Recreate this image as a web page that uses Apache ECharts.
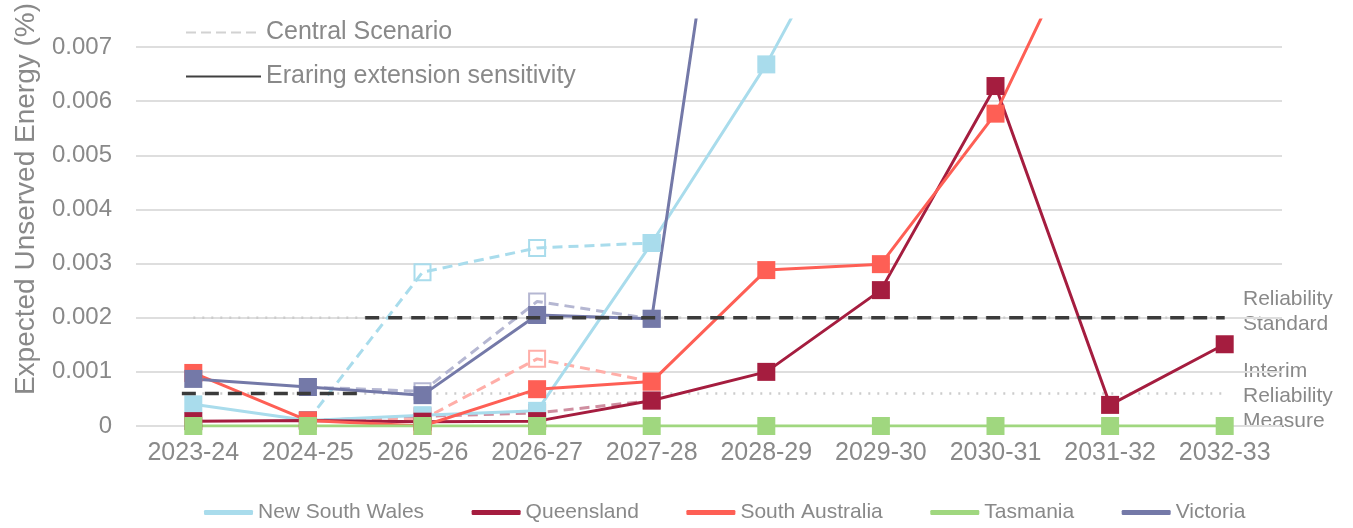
<!DOCTYPE html>
<html><head><meta charset="utf-8">
<script src="https://cdn.jsdelivr.net/npm/echarts@6/dist/echarts.min.js"></script>
<style>html,body{margin:0;padding:0;background:#fff}#c{width:1353px;height:528px}</style>
</head><body><div id="c"></div>
<script>
// ---- data ----
const categories = ['2023-24','2024-25','2025-26','2026-27','2027-28','2028-29','2029-30','2030-31','2031-32','2032-33'];
const regions = ['New South Wales','Queensland','South Australia','Tasmania','Victoria'];

// Eraring extension sensitivity (solid)
const nswEraring = [0.00040, 0.00010, 0.00020, 0.00028, 0.00338, 0.00668, 0.0106, null, null, null];
const qldEraring = [0.00009, 0.00010, 0.00008, 0.00009, 0.00047, 0.00100, 0.00251, 0.00628, 0.00039, 0.00151];
const saEraring  = [0.00098, 0.00010, 0.00000, 0.00068, 0.00082, 0.00288, 0.00299, 0.00577, 0.0102, null];
const tasEraring = [0, 0, 0, 0, 0, 0, 0, 0, 0, 0];
const vicEraring = [0.00087, 0.00072, 0.00057, 0.00205, 0.00198, 0.0163, null, null, null, null];

// Central Scenario (dashed, only where it differs)
const nswCentral = [null, 0.00010, 0.00284, 0.00329, 0.00338, null, null, null, null, null];
const qldCentral = [null, 0.00010, 0.00018, 0.00024, 0.00047, null, null, null, null, null];
const saCentral  = [null, 0.00010, 0.00012, 0.00124, 0.00082, null, null, null, null, null];
const vicCentral = [null, 0.00072, 0.00064, 0.00230, 0.00198, null, null, null, null, null];

// Reliability reference levels and their spans (category index units)
const reliabilityStandard = 0.002;
const interimMeasure = 0.0006;
const standardSpan = [1.5, 9];
const interimSpan = [-0.1, 1.5];
const guideSpan = [0, 9];

// ---- style ----
const FONT = '"Liberation Sans", Arial, sans-serif';
const TXT = '#898989';
const colors = ['#a9dcec', '#a51d3f', '#fe5f55', '#a0d77f', '#7479a8'];
const centralColors = ['#a9dcec', '#cf8ea0', '#ffaea8', '#c8e7b4', '#b5b7d2'];

const eraring = [nswEraring, qldEraring, saEraring, tasEraring, vicEraring];
const central = [nswCentral, qldCentral, saCentral, null, vicCentral];

const series = [];
// guide dotted lines
[reliabilityStandard, interimMeasure].forEach((lv, k) => {
  series.push({
    type: 'line', name: 'guide' + k, xAxisIndex: 1, yAxisIndex: 0, silent: true, z: 1,
    symbol: 'none', animation: false,
    lineStyle: { color: '#cccccc', width: 2.5, type: [2, 7] },
    data: [[guideSpan[0], lv], [guideSpan[1], lv]]
  });
});
// central scenario
central.forEach((d, i) => {
  if (!d) return;
  series.push({
    type: 'line', name: regions[i] + ' central', z: 2, silent: true, animation: false,
    data: d, symbol: 'rect', symbolSize: 16, showAllSymbol: true,
    itemStyle: { color: 'rgba(255,255,255,0)', borderColor: centralColors[i], borderWidth: 2 },
    lineStyle: { color: centralColors[i], width: 3, type: [10, 6] }
  });
});
// eraring extension
eraring.forEach((d, i) => {
  series.push({
    type: 'line', name: regions[i], z: 3, silent: true, animation: false,
    data: d, symbol: 'rect', symbolSize: 18, showAllSymbol: true,
    itemStyle: { color: colors[i] },
    lineStyle: { color: colors[i], width: 3 }
  });
});
// black dashed reliability settings
[[interimSpan, interimMeasure], [standardSpan, reliabilityStandard]].forEach(([sp, lv], k) => {
  series.push({
    type: 'line', name: 'rel' + k, xAxisIndex: 1, yAxisIndex: 0, silent: true, z: 5,
    symbol: 'none', animation: false,
    lineStyle: { color: '#3b3b3b', width: 3.5, type: [14, 9] },
    data: [[sp[0], lv], [sp[1], lv]]
  });
});
// legend-only series
series.push({ type: 'line', name: 'Central Scenario', data: [], symbol: 'none',
  lineStyle: { color: '#d2d2d2', width: 3, type: [10, 5] }, itemStyle: { color: '#d2d2d2', opacity: 0 } });
series.push({ type: 'line', name: 'Eraring extension sensitivity', data: [], symbol: 'none',
  lineStyle: { color: '#404040', width: 3 }, itemStyle: { color: '#404040', opacity: 0 } });

const chart = echarts.init(document.getElementById('c'), null, { renderer: 'canvas' });
chart.setOption({
  animation: false,
  backgroundColor: '#fff',
  textStyle: { fontFamily: FONT },
  grid: { left: 136, right: 71, top: 20, bottom: 102, containLabel: false, outerBoundsMode: 'none' },
  xAxis: [{
    type: 'category', data: categories, boundaryGap: true,
    axisLine: { show: false }, axisTick: { show: false }, splitLine: { show: false },
    axisLabel: { color: TXT, fontSize: 25, fontFamily: FONT, margin: 15, interval: 0 }
  }, {
    type: 'value', min: -0.5, max: 9.5, show: false
  }],
  yAxis: {
    type: 'value', min: 0, max: 0.0075, interval: 0.001,
    axisLine: { show: false }, axisTick: { show: false },
    splitLine: { show: true, showMaxLine: false, lineStyle: { color: '#dedede', width: 2 } },
    axisLabel: { color: TXT, fontSize: 24, fontFamily: FONT, margin: 24, showMaxLabel: false,
      formatter: v => v === 0 ? '0' : v.toFixed(3) }
  },
  legend: [{
    data: ['Central Scenario', 'Eraring extension sensitivity'],
    orient: 'vertical', left: 180, top: 15, itemWidth: 75, itemHeight: 14, itemGap: 19,
    itemStyle: { opacity: 0 },
    textStyle: { color: TXT, fontSize: 25, fontFamily: FONT }, selectedMode: false
  }, {
    data: regions.map(n => ({ name: n, icon: 'roundRect' })),
    orient: 'horizontal', left: 199, top: 497, itemWidth: 49, itemHeight: 5, itemGap: 47.5,
    textStyle: { color: TXT, fontSize: 21, fontFamily: FONT }, selectedMode: false
  }],
  graphic: [{
    type: 'text', x: 26, y: 199, rotation: Math.PI / 2,
    style: { text: 'Expected Unserved Energy (%)', fill: TXT, font: '28px ' + FONT, textAlign: 'center', textVerticalAlign: 'middle' }
  }, {
    type: 'text', x: 1243, y: 287,
    style: { text: 'Reliability\nStandard', fill: TXT, font: '21px ' + FONT, lineHeight: 25, textAlign: 'left', textVerticalAlign: 'top' }
  }, {
    type: 'text', x: 1243, y: 359,
    style: { text: 'Interim\nReliability\nMeasure', fill: TXT, font: '21px ' + FONT, lineHeight: 25, textAlign: 'left', textVerticalAlign: 'top' }
  }],
  series: series
});
</script></body></html>
